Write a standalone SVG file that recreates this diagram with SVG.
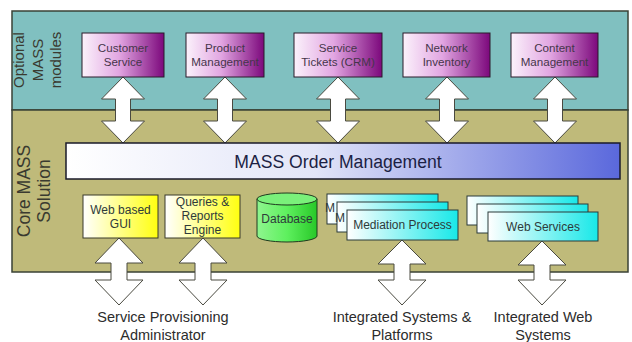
<svg xmlns="http://www.w3.org/2000/svg" width="632" height="342" viewBox="0 0 632 342">
<defs>
<linearGradient id="gPurple" x1="0" y1="0" x2="1" y2="0">
<stop offset="0" stop-color="#fbf2fb"/><stop offset="0.45" stop-color="#e2a6e2"/><stop offset="1" stop-color="#7c087c"/>
</linearGradient>
<linearGradient id="gBlue" x1="0" y1="0" x2="1" y2="0">
<stop offset="0" stop-color="#ffffff"/><stop offset="0.45" stop-color="#e2e5f8"/><stop offset="1" stop-color="#5a68dc"/>
</linearGradient>
<linearGradient id="gYellow" x1="0" y1="0" x2="1" y2="0">
<stop offset="0" stop-color="#ffffff"/><stop offset="1" stop-color="#ffff10"/>
</linearGradient>
<linearGradient id="gCyan" x1="0" y1="0" x2="1" y2="0">
<stop offset="0" stop-color="#ffffff"/><stop offset="1" stop-color="#18e8e8"/>
</linearGradient>
<linearGradient id="gGreen" x1="0" y1="0" x2="1" y2="0">
<stop offset="0" stop-color="#8ff58f"/><stop offset="0.5" stop-color="#5ef05e"/><stop offset="1" stop-color="#28c828"/>
</linearGradient>
</defs>
<style>
.panel{stroke:#3a4236;stroke-width:1.5}
.mod{fill:url(#gPurple);stroke:#2a1a2a;stroke-width:1}
.modt{font-family:"Liberation Sans",Arial,sans-serif;font-size:11.6px;fill:#45354a;text-anchor:middle}
.yel{fill:url(#gYellow);stroke:#3a3a2a;stroke-width:1}
.cyan{fill:url(#gCyan);stroke:#2a3a3a;stroke-width:1}
.bt{font-family:"Liberation Sans",Arial,sans-serif;font-size:12px;fill:#2e3a3a;text-anchor:middle}
.side{font-family:"Liberation Sans",Arial,sans-serif;fill:#3a3a30;text-anchor:middle}
.lab{font-family:"Liberation Sans",Arial,sans-serif;font-size:14.5px;fill:#2c2c2c;text-anchor:middle}
.arr{fill:#ffffff;stroke:#4a4a40;stroke-width:1}
</style>
<rect width="632" height="342" fill="#ffffff"/>
<g id="panels">
<rect class="panel" x="12" y="11" width="616" height="99" fill="#80c0c0"/>
<rect class="panel" x="12" y="110" width="616" height="162" fill="#bfba7a"/>
<text class="side" font-size="15" transform="translate(24,60) rotate(-90)">Optional</text>
<text class="side" font-size="15" transform="translate(43,60) rotate(-90)">MASS</text>
<text class="side" font-size="15" transform="translate(61,60) rotate(-90)">modules</text>
<text class="side" font-size="17.5" transform="translate(30,191) rotate(-90)">Core MASS</text>
<text class="side" font-size="17.5" transform="translate(50,191) rotate(-90)">Solution</text>
</g>
<g id="connectors">
<path class="arr" d="M123 77 L144.5 99 L130.5 99 L130.5 121 L144.5 121 L123 143 L101.5 121 L115.5 121 L115.5 99 L101.5 99 Z"/>
<path class="arr" d="M225 77 L246.5 99 L232.5 99 L232.5 121 L246.5 121 L225 143 L203.5 121 L217.5 121 L217.5 99 L203.5 99 Z"/>
<path class="arr" d="M338 77 L359.5 99 L345.5 99 L345.5 121 L359.5 121 L338 143 L316.5 121 L330.5 121 L330.5 99 L316.5 99 Z"/>
<path class="arr" d="M447 77 L468.5 99 L454.5 99 L454.5 121 L468.5 121 L447 143 L425.5 121 L439.5 121 L439.5 99 L425.5 99 Z"/>
<path class="arr" d="M555 77 L576.5 99 L562.5 99 L562.5 121 L576.5 121 L555 143 L533.5 121 L547.5 121 L547.5 99 L533.5 99 Z"/>
<path class="arr" d="M119 238 L143 263 L127 263 L127 280 L143 280 L119 305 L95 280 L111 280 L111 263 L95 263 Z"/>
<path class="arr" d="M203 238 L227 263 L211 263 L211 280 L227 280 L203 305 L179 280 L195 280 L195 263 L179 263 Z"/>
<path class="arr" d="M402 240 L426 264 L410 264 L410 280 L426 280 L402 305 L378 280 L394 280 L394 264 L378 264 Z"/>
<path class="arr" d="M542 241 L566 265 L550 265 L550 280 L566 280 L542 305 L518 280 L534 280 L534 265 L518 265 Z"/>
</g>
<g id="customer-service">
<rect class="mod" x="82" y="33" width="82" height="44"/>
<text class="modt" x="123" y="52">Customer</text>
<text class="modt" x="123" y="66">Service</text>
</g>
<g id="product-management">
<rect class="mod" x="186" y="33" width="78" height="44"/>
<text class="modt" x="225" y="52">Product</text>
<text class="modt" x="225" y="66">Management</text>
</g>
<g id="service-tickets">
<rect class="mod" x="294" y="33" width="88" height="44"/>
<text class="modt" x="338" y="52">Service</text>
<text class="modt" x="338" y="66">Tickets (CRM)</text>
</g>
<g id="network-inventory">
<rect class="mod" x="403" y="33" width="87" height="44"/>
<text class="modt" x="446.5" y="52">Network</text>
<text class="modt" x="446.5" y="66">Inventory</text>
</g>
<g id="content-management">
<rect class="mod" x="511" y="33" width="87" height="44"/>
<text class="modt" x="554.5" y="52">Content</text>
<text class="modt" x="554.5" y="66">Management</text>
</g>
<g id="order-management">
<rect x="66" y="143" width="554" height="36" fill="url(#gBlue)" stroke="#1a1a2a" stroke-width="1.5"/>
<text x="338" y="168" font-family="'Liberation Sans',Arial,sans-serif" font-size="17.6" fill="#1c1f44" text-anchor="middle">MASS Order Management</text>
</g>
<g id="web-gui">
<rect class="yel" x="83" y="195" width="75" height="43"/>
<text class="bt" x="120.5" y="214">Web based</text>
<text class="bt" x="120.5" y="228">GUI</text>
</g>
<g id="queries-reports">
<rect class="yel" x="165" y="195" width="75" height="43"/>
<text class="bt" x="202.5" y="206">Queries &amp;</text>
<text class="bt" x="202.5" y="220">Reports</text>
<text class="bt" x="202.5" y="234">Engine</text>
</g>
<g id="database">
<path d="M257 199 L257 236 A30 6 0 0 0 317 236 L317 199 Z" fill="url(#gGreen)" stroke="#1f3a1f" stroke-width="1"/>
<ellipse cx="287" cy="199" rx="30" ry="6" fill="#7af07a" stroke="#1f3a1f" stroke-width="1"/>
<text class="bt" x="287" y="223" fill="#1d401d">Database</text>
</g>
<g id="mediation-process">
<rect class="cyan" x="327" y="194" width="111" height="30"/>
<text class="bt" x="330" y="212" text-anchor="start">M</text>
<rect class="cyan" x="337" y="202" width="111" height="30"/>
<text class="bt" x="340" y="222" text-anchor="start">M</text>
<rect class="cyan" x="347" y="210" width="111" height="30"/>
<text class="bt" x="402.5" y="229">Mediation Process</text>
</g>
<g id="web-services">
<rect class="cyan" x="467" y="196" width="111" height="29"/>
<rect class="cyan" x="477" y="204" width="111" height="29"/>
<rect class="cyan" x="488" y="212" width="110" height="29"/>
<text class="bt" x="543" y="231">Web Services</text>
</g>
<g id="labels">
<text class="lab" x="163" y="322">Service Provisioning</text>
<text class="lab" x="163" y="340">Administrator</text>
<text class="lab" x="402" y="322">Integrated Systems &amp;</text>
<text class="lab" x="402" y="340">Platforms</text>
<text class="lab" x="543" y="322">Integrated Web</text>
<text class="lab" x="543" y="340">Systems</text>
</g>
</svg>
